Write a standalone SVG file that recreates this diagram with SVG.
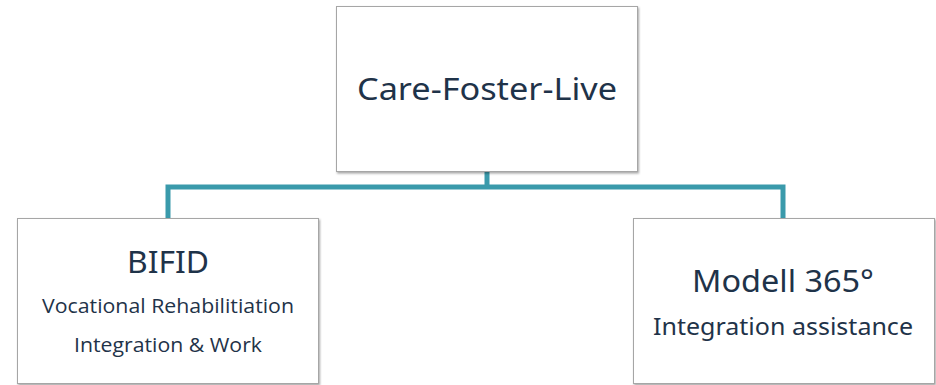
<svg xmlns="http://www.w3.org/2000/svg" width="936" height="385" viewBox="0 0 936 385">
<defs>
<filter id="sh" x="-5%" y="-5%" width="110%" height="115%">
<feDropShadow dx="1" dy="1.5" stdDeviation="1.2" flood-color="#000" flood-opacity="0.35"/>
</filter>
<style>
.box{fill:#fff;stroke:#a6a6a6;stroke-width:1;filter:url(#sh)}
.t{font-family:"Noto Sans","Open Sans",sans-serif;fill:#1f3349;text-anchor:middle}
.s{font-family:"Open Sans","Noto Sans",sans-serif;fill:#1f3349;text-anchor:middle}
.con{fill:none;stroke:#3a9aab;stroke-width:5}
</style>
</defs>
<rect width="936" height="385" fill="#fff"/>
<g id="connectors">
<path class="con" d="M487 172 V187 M168 218 V187 H783 V218"/>
</g>
<g id="node-care">
<rect class="box" x="336.5" y="6.5" width="301" height="165"/>
<text class="t" x="487" y="100" font-size="31.5" textLength="260" lengthAdjust="spacingAndGlyphs">Care-Foster-Live</text>
</g>
<g id="node-bifid">
<rect class="box" x="17.5" y="218.5" width="301" height="165"/>
<text class="t" x="168" y="273" font-size="31" textLength="82" lengthAdjust="spacingAndGlyphs">BIFID</text>
<text class="s" x="168" y="313" font-size="20.5" textLength="252" lengthAdjust="spacingAndGlyphs">Vocational Rehabilitiation</text>
<text class="s" x="168" y="352" font-size="20.5" textLength="188" lengthAdjust="spacingAndGlyphs">Integration &amp; Work</text>
</g>
<g id="node-modell">
<rect class="box" x="633.5" y="218.5" width="301" height="165"/>
<text class="t" x="783" y="292" font-size="31" textLength="182" lengthAdjust="spacingAndGlyphs">Modell 365°</text>
<text class="t" x="783" y="335" font-size="23" textLength="260" lengthAdjust="spacingAndGlyphs">Integration assistance</text>
</g>
</svg>
